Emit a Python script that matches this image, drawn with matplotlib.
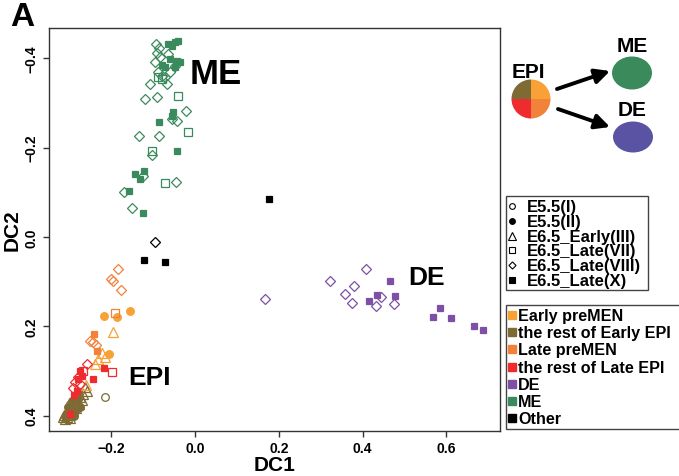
import matplotlib
matplotlib.use("Agg")
import matplotlib.pyplot as plt
from matplotlib.patches import Ellipse, Wedge, Rectangle

# group colours
C_EARLY_PRE = "#F7A136"
C_EARLY_REST = "#7D6A35"
C_LATE_PRE = "#F2813A"
C_LATE_REST = "#EE2B2E"
C_DE = "#7E4FA6"
C_ME = "#3B8A5E"
C_OTHER = "#000000"

# ---- diffusion map coordinates ----
# rest of Early EPI (brown)
early_rest_i_dc1 = [-0.215, -0.279, -0.298]
early_rest_i_dc2 = [0.358, 0.352, 0.374]
early_rest_ii_dc1 = [-0.279, -0.286, -0.296, -0.303, -0.294, -0.289, -0.308, -0.274]
early_rest_ii_dc2 = [0.363, 0.390, 0.394, 0.381, 0.367, 0.401, 0.405, 0.381]
early_rest_iii_dc1 = [-0.263, -0.258, -0.267, -0.274, -0.270, -0.284, -0.277, -0.289, -0.294, -0.284,
                      -0.298, -0.291, -0.303, -0.308, -0.301, -0.313, -0.305, -0.315, -0.310, -0.298]
early_rest_iii_dc2 = [0.336, 0.345, 0.352, 0.358, 0.365, 0.370, 0.374, 0.376, 0.381, 0.383,
                      0.385, 0.390, 0.390, 0.394, 0.399, 0.399, 0.403, 0.403, 0.408, 0.405]

# Early preMEN (light orange)
early_pre_ii_dc1 = [-0.217, -0.155, -0.186, -0.205]
early_pre_ii_dc2 = [0.177, 0.166, 0.179, 0.262]
early_pre_iii_dc1 = [-0.196, -0.222, -0.215, -0.232, -0.239, -0.260]
early_pre_iii_dc2 = [0.213, 0.260, 0.269, 0.273, 0.284, 0.331]

# Late preMEN (orange)
late_pre_viii_dc1 = [-0.184, -0.200, -0.196, -0.177, -0.251, -0.243, -0.236]
late_pre_viii_dc2 = [0.072, 0.094, 0.099, 0.119, 0.233, 0.235, 0.242]
late_pre_vii_dc1 = [-0.191]
late_pre_vii_dc2 = [0.170]
late_pre_x_dc1 = [-0.241, -0.234]
late_pre_x_dc2 = [0.217, 0.255]

# rest of Late EPI (red)
late_rest_x_dc1 = [-0.217, -0.270, -0.279, -0.243, -0.282, -0.298, -0.274, -0.289]
late_rest_x_dc2 = [0.293, 0.311, 0.318, 0.318, 0.345, 0.396, 0.300, 0.354]
late_rest_vii_dc1 = [-0.198, -0.267]
late_rest_vii_dc2 = [0.302, 0.300]
late_rest_viii_dc1 = [-0.258, -0.286, -0.274, -0.291, -0.279]
late_rest_viii_dc2 = [0.284, 0.325, 0.329, 0.338, 0.314]

# ME (green)
me_x_dc1 = [-0.064, -0.048, -0.055, -0.041, -0.043, -0.036, -0.048, -0.072, -0.079, -0.053,
            -0.055, -0.086, -0.043, -0.143, -0.131, -0.122, -0.158, -0.124, -0.060]
me_x_dc2 = [-0.432, -0.437, -0.428, -0.439, -0.394, -0.392, -0.381, -0.381, -0.385, -0.280,
            -0.271, -0.258, -0.193, -0.141, -0.130, -0.148, -0.103, -0.054, -0.399]
me_viii_dc1 = [-0.093, -0.086, -0.091, -0.064, -0.095, -0.088, -0.060, -0.048, -0.084, -0.079,
               -0.067, -0.107, -0.119, -0.091, -0.021, -0.055, -0.043, -0.134, -0.086, -0.103,
               -0.124, -0.045, -0.169, -0.150, -0.072]
me_viii_dc2 = [-0.432, -0.423, -0.412, -0.410, -0.392, -0.370, -0.370, -0.383, -0.403, -0.361,
               -0.343, -0.343, -0.309, -0.314, -0.282, -0.264, -0.260, -0.226, -0.226, -0.184,
               -0.137, -0.123, -0.101, -0.065, -0.358]
me_vii_dc1 = [-0.088, -0.079, -0.041, -0.017, -0.103, -0.072]
me_vii_dc2 = [-0.358, -0.354, -0.316, -0.235, -0.193, -0.121]

# DE (purple)
de_viii_dc1 = [0.167, 0.322, 0.408, 0.379, 0.358, 0.375, 0.432, 0.444, 0.475]
de_viii_dc2 = [0.139, 0.099, 0.072, 0.110, 0.128, 0.148, 0.155, 0.134, 0.150]
de_x_dc1 = [0.465, 0.434, 0.415, 0.477, 0.585, 0.568, 0.611, 0.666, 0.687]
de_x_dc2 = [0.099, 0.130, 0.143, 0.132, 0.159, 0.179, 0.181, 0.199, 0.208]

# Other (black)
other_viii_dc1 = [-0.095]
other_viii_dc2 = [0.011]
other_x_dc1 = [-0.122, -0.072, 0.177]
other_x_dc2 = [0.052, 0.056, -0.085]

stage_labels = ["E5.5(I)", "E5.5(II)", "E6.5_Early(III)", "E6.5_Late(VII)",
                "E6.5_Late(VIII)", "E6.5_Late(X)"]
group_labels = ["Early preMEN", "the rest of Early EPI", "Late preMEN",
                "the rest of Late EPI", "DE", "ME", "Other"]
group_colors = [C_EARLY_PRE, C_EARLY_REST, C_LATE_PRE, C_LATE_REST, C_DE, C_ME, C_OTHER]

# marker, filled, size (pt)
STAGE_STYLE = {
    "E5.5(I)": ("o", False, 5.5),
    "E5.5(II)": ("o", True, 5.5),
    "E6.5_Early(III)": ("^", False, 7.0),
    "E6.5_Late(VII)": ("s", False, 5.2),
    "E6.5_Late(VIII)": ("D", False, 4.8),
    "E6.5_Late(X)": ("s", True, 5.0),
}

series = [
    (early_rest_iii_dc1, early_rest_iii_dc2, C_EARLY_REST, "E6.5_Early(III)"),
    (early_rest_ii_dc1, early_rest_ii_dc2, C_EARLY_REST, "E5.5(II)"),
    (early_rest_i_dc1, early_rest_i_dc2, C_EARLY_REST, "E5.5(I)"),
    (early_pre_iii_dc1, early_pre_iii_dc2, C_EARLY_PRE, "E6.5_Early(III)"),
    (early_pre_ii_dc1, early_pre_ii_dc2, C_EARLY_PRE, "E5.5(II)"),
    (late_pre_viii_dc1, late_pre_viii_dc2, C_LATE_PRE, "E6.5_Late(VIII)"),
    (late_pre_vii_dc1, late_pre_vii_dc2, C_LATE_PRE, "E6.5_Late(VII)"),
    (late_pre_x_dc1, late_pre_x_dc2, C_LATE_PRE, "E6.5_Late(X)"),
    (late_rest_viii_dc1, late_rest_viii_dc2, C_LATE_REST, "E6.5_Late(VIII)"),
    (late_rest_vii_dc1, late_rest_vii_dc2, C_LATE_REST, "E6.5_Late(VII)"),
    (late_rest_x_dc1, late_rest_x_dc2, C_LATE_REST, "E6.5_Late(X)"),
    (me_viii_dc1, me_viii_dc2, C_ME, "E6.5_Late(VIII)"),
    (me_vii_dc1, me_vii_dc2, C_ME, "E6.5_Late(VII)"),
    (me_x_dc1, me_x_dc2, C_ME, "E6.5_Late(X)"),
    (de_viii_dc1, de_viii_dc2, C_DE, "E6.5_Late(VIII)"),
    (de_x_dc1, de_x_dc2, C_DE, "E6.5_Late(X)"),
    (other_viii_dc1, other_viii_dc2, C_OTHER, "E6.5_Late(VIII)"),
    (other_x_dc1, other_x_dc2, C_OTHER, "E6.5_Late(X)"),
]

plt.rcParams["font.family"] = ["Liberation Sans", "DejaVu Sans"]
plt.rcParams["font.weight"] = "bold"
plt.rcParams["axes.labelweight"] = "bold"

fig = plt.figure(figsize=(6.79, 4.77), dpi=100)
ax = fig.add_axes([49 / 679, 45 / 477, 451 / 679, 403 / 477])

for dc1, dc2, col, stage in series:
    marker, filled, ms = STAGE_STYLE[stage]
    ax.plot(dc1, dc2, linestyle="none", marker=marker, markersize=ms,
            markerfacecolor=col if filled else "none", markeredgecolor=col,
            markeredgewidth=0.9)

ax.set_xlim(-0.348, 0.728)
ax.set_ylim(0.4345, -0.468)
ax.set_xticks([-0.2, 0.0, 0.2, 0.4, 0.6])
ax.set_yticks([-0.4, -0.2, 0.0, 0.2, 0.4])
ax.tick_params(direction="out", length=4.5, width=1, color="#333333", labelsize=10, pad=3)
for lab in ax.get_yticklabels():
    lab.set_rotation(90)
    lab.set_va("center")
for sp in ax.spines.values():
    sp.set_color("#333333")
    sp.set_linewidth(1)
ax.set_xlabel("DC1", fontsize=15, fontweight="bold", labelpad=0)
ax.set_ylabel("DC2", fontsize=15, fontweight="bold", labelpad=2)

ax.text(-0.012, -0.365, "ME", fontsize=25, va="center", ha="left")
ax.text(-0.160, 0.313, "EPI", fontsize=19, va="center", ha="left")
ax.text(0.508, 0.090, "DE", fontsize=19, va="center", ha="left")

# overlay in pixel units for panel letter, schematic and legends
ov = fig.add_axes([0, 0, 1, 1], zorder=5)
ov.set_xlim(0, 679)
ov.set_ylim(477, 0)
ov.axis("off")
ov.patch.set_alpha(0)

ov.text(10, 18, "A", fontsize=24, va="center", ha="left")

# schematic: EPI pie -> ME / DE
pie_cx, pie_cy, pie_r = 531, 100, 19.5
for th1, th2, col in [(90, 180, C_EARLY_REST), (0, 90, C_EARLY_PRE),
                      (270, 360, C_LATE_PRE), (180, 270, C_LATE_REST)]:
    ov.add_patch(Wedge((pie_cx, pie_cy), pie_r, -th2, -th1, facecolor=col, edgecolor="none"))
ov.text(pie_cx - 3, 72, "EPI", fontsize=15, ha="center", va="center")
ov.add_patch(Ellipse((632, 74), 40, 33, facecolor="#3A8A5C", edgecolor="none"))
ov.add_patch(Ellipse((633, 138), 40, 31, facecolor="#5A52A2", edgecolor="none"))
ov.text(632, 46, "ME", fontsize=15, ha="center", va="center")
ov.text(632, 110, "DE", fontsize=15, ha="center", va="center")
arrow = dict(arrowstyle="-|>", lw=2.8, color="black", mutation_scale=22, shrinkA=0, shrinkB=0)
ov.annotate("", xy=(610, 72), xytext=(557, 90), arrowprops=arrow)
ov.annotate("", xy=(610, 128), xytext=(558, 110), arrowprops=arrow)

# legend 1: stages
ov.add_patch(Rectangle((506, 197), 142, 94, facecolor="white", edgecolor="#444444", lw=1))
for i, stage in enumerate(stage_labels):
    y = 207 + i * 14.8
    marker, filled, ms = STAGE_STYLE[stage]
    ov.plot([512], [y], linestyle="none", marker=marker, markersize=ms * 0.75,
            markerfacecolor="black" if filled else "none", markeredgecolor="black",
            markeredgewidth=0.8)
    ov.text(527, y + 0.5, stage, fontsize=12, ha="left", va="center")

# legend 2: groups
ov.add_patch(Rectangle((506, 306), 200, 124, facecolor="white", edgecolor="#444444", lw=1,
                       clip_on=False))
for i, (lab, col) in enumerate(zip(group_labels, group_colors)):
    y = 316 + i * 17.2
    ov.plot([512], [y], linestyle="none", marker="s", markersize=5.2,
            markerfacecolor=col, markeredgecolor=col)
    ov.text(518, y + 0.5, lab, fontsize=11.6, ha="left", va="center")

fig.savefig("out.png", dpi=100)
